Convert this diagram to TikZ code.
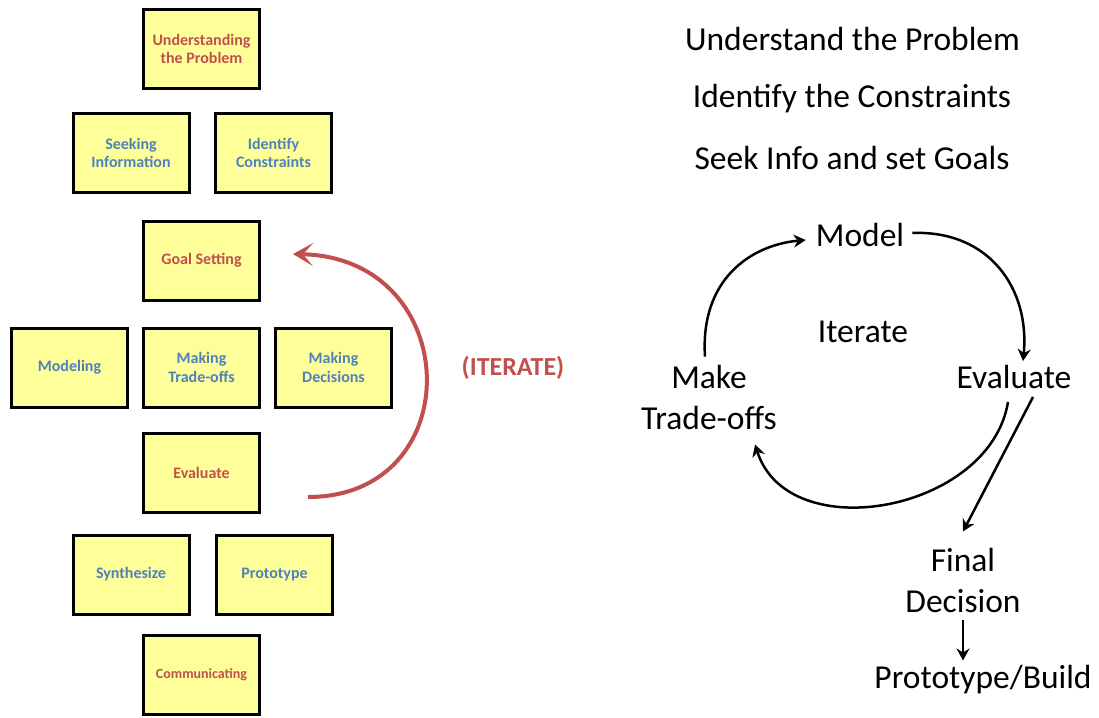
\documentclass[tikz,border=0pt]{standalone}
\usepackage{fontspec}
\setmainfont{Carlito}
\usetikzlibrary{arrows.meta}
\definecolor{cardfill}{RGB}{255,255,153}
\definecolor{cardred}{RGB}{192,80,77}
\definecolor{cardblue}{RGB}{79,129,189}
\begin{document}
\begin{tikzpicture}[x=1pt, y=-1pt,
  card/.style={draw=black, line width=3pt, fill=cardfill, minimum width=116pt, minimum height=79pt,
    align=center, inner sep=0pt, font=\bfseries\fontsize{16}{18.5}\selectfont},
  redcard/.style={card, text=cardred},
  bluecard/.style={card, text=cardblue},
  phrase/.style={font=\fontsize{33.5}{41}\selectfont, align=center, inner sep=0pt},
  iterarc/.style={draw=cardred, line width=4pt, -{Stealth[length=20pt,width=23pt,inset=10pt]}},
  cyc/.style={line width=2.5pt, -{Stealth[length=12pt,width=13pt,inset=4pt]}}]
  \useasboundingbox (0,0) rectangle (1099,717);
  % left: the cards
  \node[redcard]  (underst)   at (201.5,49)    {Understanding\\the Problem};
  \node[bluecard] (seek)      at (131,153)     {Seeking\\Information};
  \node[bluecard] (constr)    at (273.5,153)   {Identify\\Constraints};
  \node[redcard]  (goal)      at (201.5,260.5) {Goal Setting};
  \node[bluecard] (modeling)  at (69.5,367.5)  {Modeling};
  \node[bluecard] (tradeoffs) at (201.5,367.5) {Making\\Trade-offs};
  \node[bluecard] (decisions) at (333.5,367.5) {Making\\Decisions};
  \node[redcard]  (evaluate)  at (201.5,473)   {Evaluate};
  \node[bluecard] (synth)     at (131,574.5)   {Synthesize};
  \node[bluecard] (proto)     at (274.5,574.5) {Prototype};
  \node[redcard, font=\bfseries\fontsize{14}{16}\selectfont] (comm) at (201.5,675) {Communicating};
  % the loop back
  \coordinate (itstart) at (308,497);
  \coordinate (itend)   at (293,254);
  \draw[iterarc] (itstart) .. controls +(162,0) and +(172,4) .. (itend);
  \node[font=\bfseries\fontsize{26}{31}\selectfont, text=cardred, inner sep=0pt] (iterlbl) at (513,368) {(ITERATE)};
  % right: the steps
  \node[phrase] (top1)  at (852.5,39) {Understand the Problem};
  \node[phrase] (top2)  at (852,99)   {Identify the Constraints};
  \node[phrase] (top3)  at (852,158)  {Seek Info and set Goals};
  \node[phrase] (model) at (860,235)  {Model};
  \node[phrase] (iter)  at (863,332)  {Iterate};
  \node[phrase] (trade) at (709,397)  {Make\\Trade-offs};
  \node[phrase] (eval)  at (1014,377) {Evaluate};
  \node[phrase] (final) at (963,580)  {Final\\Decision};
  \node[phrase] (build) at (983,680)  {Prototype/Build};
  \draw[cyc] ([xshift=8pt,yshift=2pt]model.east) .. controls +(77,-3) and +(7,-72) .. ([xshift=9pt,yshift=4pt]eval.north);
  \draw[cyc] ([xshift=-6pt,yshift=-13pt]eval.south) .. controls +(-18,110) and +(33,104) .. ([xshift=-22pt,yshift=-15pt]trade.south east);
  \draw[cyc] ([xshift=-4pt,yshift=8pt]trade.north) .. controls +(-5,-77) and +(-55,5) .. ([xshift=-10pt,yshift=-5pt]model.west);
  \draw[cyc] ([xshift=19pt,yshift=-8pt]eval.south) -- ([yshift=16pt]final.north);
  \draw[cyc] ([yshift=-8pt]final.south) -- ([xshift=-20pt,yshift=5pt]build.north);
\end{tikzpicture}
\end{document}
